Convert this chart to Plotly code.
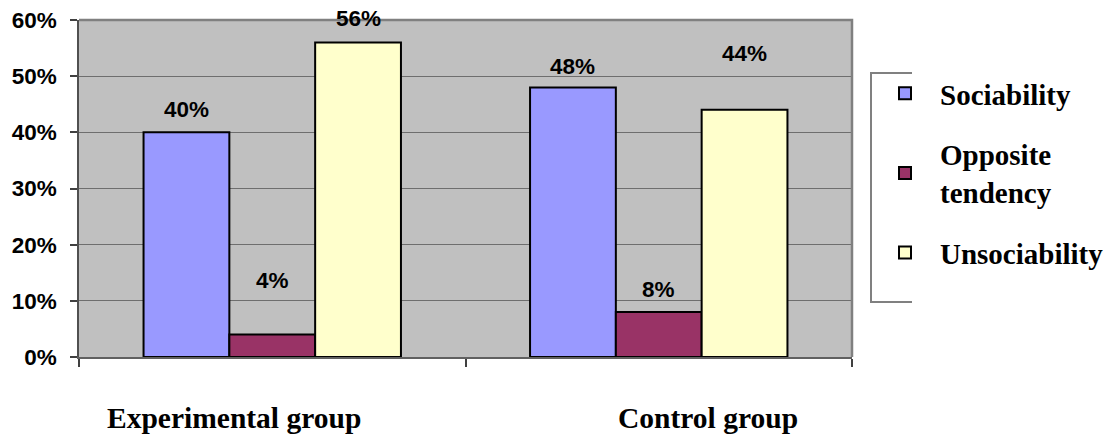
import plotly.graph_objects as go

# Groups on the category axis
groups = ["Experimental group", "Control group"]

# Share of answers per attitude, as fractions
sociability = [0.40, 0.48]
opposite_tendency = [0.04, 0.08]
unsociability = [0.56, 0.44]

series_names = ["Sociability", "Opposite<br>tendency", "Unsociability"]
series_values = [sociability, opposite_tendency, unsociability]
series_colors = ["#9999FF", "#993366", "#FFFFCC"]

y_ticks = [0.0, 0.1, 0.2, 0.3, 0.4, 0.5, 0.6]

# Vertical lift (px) of each value label above its bar, per series and group
label_lift = [[23, 21], [54, 23], [24, 56]]
# Horizontal nudge (px) of the group captions below the axis
caption_shift = [-38, 49]

W, H = 1111, 436
M_L, M_R, M_T, M_B = 79, 259, 20, 79
PLOT_W = W - M_L - M_R
PLOT_H = H - M_T - M_B
BARGAP = 0.334

SANS = "Liberation Sans, Arial, sans-serif"
SERIF = "Liberation Serif, Times New Roman, serif"


def sans_font():
    return dict(family=SANS, size=22.5, color="black", weight="bold")


def serif_font(size):
    return dict(family=SERIF, size=size, color="black", weight="bold")


def px_x(p):
    return (p - M_L) / PLOT_W


def px_y(p):
    return (H - M_B - p) / PLOT_H


fig = go.Figure()
for i, (name, vals, col) in enumerate(zip(series_names, series_values, series_colors)):
    fig.add_trace(go.Bar(
        x=groups, y=vals, name=name, legendgroup=f"g{i}",
        marker=dict(color=col, line=dict(color="black", width=2)),
    ))

# Value labels above the bars
cat_w = PLOT_W / len(groups)
bar_w = cat_w * (1 - BARGAP) / len(series_values)
for i, vals in enumerate(series_values):
    for j, v in enumerate(vals):
        fig.add_annotation(
            x=groups[j], y=v, xref="x", yref="y",
            text=f"{v:.0%}", showarrow=False,
            xshift=(i - 1) * bar_w, yshift=label_lift[i][j],
            font=sans_font(),
        )

# Group captions under the axis
for j, g in enumerate(groups):
    fig.add_annotation(
        x=g, y=0, xref="x", yref="paper", yanchor="middle",
        yshift=-61, xshift=caption_shift[j],
        text=g, showarrow=False, font=serif_font(29.5),
    )

# Top and right frame of the plot area
fig.add_shape(type="path", xref="paper", yref="paper",
              path="M 0 1 L 1 1 L 1 0",
              line=dict(color="#808080", width=2.5), layer="above")

# Open left edge of the legend box
fig.add_shape(type="path", xref="paper", yref="paper",
              path=(f"M {px_x(912)} {px_y(73)} L {px_x(871)} {px_y(73)} "
                    f"L {px_x(871)} {px_y(302)} L {px_x(912)} {px_y(302)}"),
              line=dict(color="#808080", width=2))

fig.update_layout(
    width=W, height=H,
    margin=dict(l=M_L, r=M_R, t=M_T, b=M_B, pad=0, autoexpand=False),
    paper_bgcolor="white", plot_bgcolor="#C0C0C0",
    barmode="group", bargap=BARGAP, bargroupgap=0,
    showlegend=True,
    legend=dict(
        x=px_x(870), xanchor="left", y=px_y(68), yanchor="top",
        font=serif_font(29), itemwidth=60, tracegroupgap=20,
        bgcolor="rgba(0,0,0,0)", borderwidth=0,
        valign="middle",
    ),
    xaxis=dict(
        showticklabels=False, showgrid=False, automargin=False,
        ticks="outside", tickson="boundaries", ticklen=8, tickwidth=2,
        tickcolor="#404040",
        showline=True, linecolor="#606060", linewidth=2,
        zeroline=False,
    ),
    yaxis=dict(
        range=[0, 0.6], tickvals=y_ticks, tickformat=".0%",
        tickfont=sans_font(), automargin=False,
        ticks="outside", ticklen=7, tickcolor="#404040", tickwidth=1.5,
        ticklabelstandoff=9,
        showgrid=True, gridcolor="#6E6E6E", gridwidth=1.2,
        showline=True, linecolor="#505050", linewidth=1.5,
        zeroline=False,
    ),
)

fig.write_html("out.html")
